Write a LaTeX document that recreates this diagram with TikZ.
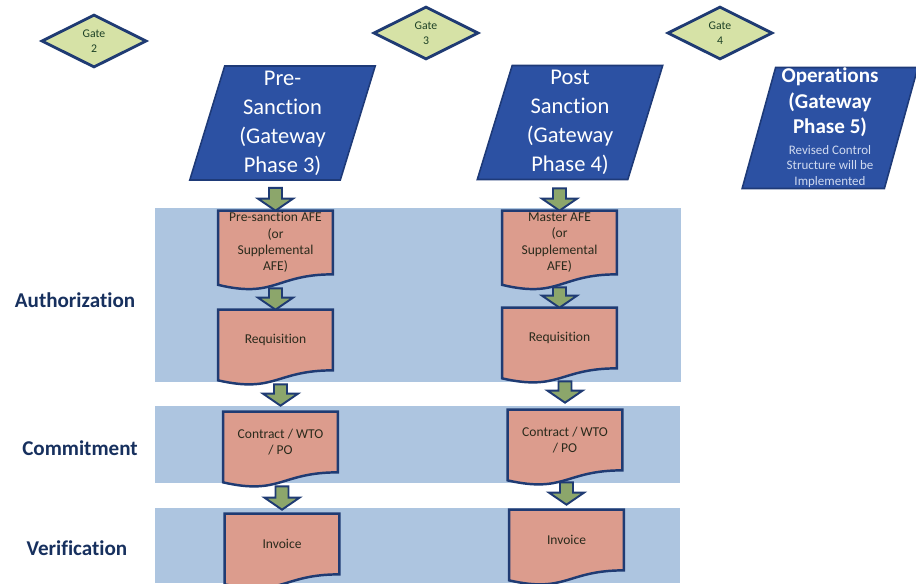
\documentclass[tikz,border=0pt]{standalone}
\usepackage{fontspec}
\setmainfont[Ligatures=NoCommon]{Carlito}
\usetikzlibrary{shapes.geometric,calc}

\definecolor{navyline}{HTML}{1F3B73}
\definecolor{gatefill}{HTML}{D6E2A6}
\definecolor{gatetext}{HTML}{1E4226}
\definecolor{phasefill}{HTML}{2C51A3}
\definecolor{phaseline}{HTML}{1E3A78}
\definecolor{opstext}{HTML}{D0DAF0}
\definecolor{bandfill}{HTML}{ADC5E0}
\definecolor{docfill}{HTML}{DC9C8D}
\definecolor{doctext}{HTML}{2A2A1C}
\definecolor{arrowfill}{HTML}{8CA66B}
\definecolor{labelblue}{HTML}{17305E}

\pgfdeclarelayer{bands}
\pgfdeclarelayer{shapes}
\pgfsetlayers{bands,shapes,main}

\tikzset{
	gate/.style={diamond, aspect=2, draw=navyline, line width=1.6pt, fill=gatefill,
		minimum width=2.1cm, minimum height=1.06cm, inner sep=0pt, align=center,
		text=gatetext, font=\fontsize{6.7}{8.7}\selectfont},
	phase/.style={trapezium, trapezium left angle=76, trapezium right angle=104,
		trapezium stretches=true, draw=phaseline, line width=0.9pt, fill=phasefill,
		text=white, align=center, inner sep=0pt, minimum width=3.74cm,
		minimum height=2.28cm, font=\fontsize{12.8}{16.5}\selectfont},
	stagelabel/.style={text=labelblue, font=\bfseries\fontsize{12}{14}\selectfont},
	docbox/.style={rectangle, inner sep=0pt, minimum width=2.28cm, minimum height=1.2cm,
		align=center, text=doctext, font=\fontsize{7.7}{9.3}\selectfont},
	docline/.style={draw=navyline, line width=1.4pt, fill=docfill},
	band/.style={fill=bandfill},
	flowarrow/.style={draw=navyline, line width=1.1pt, fill=arrowfill, line join=miter}
}

\newcommand{\opsnote}{\mdseries\color{opstext}\fontsize{7.4}{9}\selectfont}

\newcommand{\docoutline}[1]{%
	\filldraw[docline] (#1.north west) -- (#1.north east) -- (#1.south east)
	.. controls (#1.south) and ($(#1.north)!1.381!(#1.south)$)
	.. ($(#1.north west)!1.165!(#1.south west)$) -- cycle;}

\newcommand{\blockarrow}[4]{%
	\draw[flowarrow] ($(#2.north |- #1.south)+(-6.5,#3)$) -- ($(#2.north |- #1.south)+(6.5,#3)$)
	-- ($(#2.north)+(6.5,-12-#4)$) -- ($(#2.north)+(17.5,-12-#4)$) -- ($(#2.north)+(0,-#4)$)
	-- ($(#2.north)+(-17.5,-12-#4)$) -- ($(#2.north)+(-6.5,-12-#4)$) -- cycle;}

\begin{document}
\begin{tikzpicture}[x=0.02cm,y=-0.02cm]
	\useasboundingbox (0,0) rectangle (916,583);
	
	\begin{pgfonlayer}{bands}
		\fill[band] (155,208) rectangle (681,382);
		\fill[band] (155,406) rectangle (680,483);
		\fill[band] (155,508) rectangle (680,583);
	\end{pgfonlayer}
	
	\node[gate] (gate2) at (94,41) {Gate\\2};
	\node[gate] (gate3) at (426,33) {Gate\\3};
	\node[gate] (gate4) at (720,33) {Gate\\4};
	
	\node[phase] (pre) at (282.5,123) {Pre-\\Sanction\\(Gateway\\Phase 3)};
	\node[phase] (post) at (570,122.5) {Post\\Sanction\\(Gateway\\Phase 4)};
	\node[phase, minimum width=3.52cm, minimum height=2.42cm,
		font=\bfseries\fontsize{12}{14.5}\selectfont] (ops) at (830,128)
		{Operations\\(Gateway\\Phase 5)\\[-3pt]\opsnote Revised Control\\[-5.5pt]\opsnote Structure will be\\[-5.5pt]\opsnote Implemented};
	
	\node[stagelabel] (auth) at (75,300) {Authorization};
	\node[stagelabel] (commit) at (80,448) {Commitment};
	\node[stagelabel] (verif) at (77,548) {Verification};
	
	\node[docbox, minimum height=1.26cm] (afeA) at (275.5,242.5) {Pre-sanction AFE\\(or\\Supplemental\\AFE)};
	\node[docbox] (reqA) at (275.5,340) {Requisition};
	\node[docbox] (conA) at (280.5,442) {Contract / WTO\\/ PO};
	\node[docbox] (invA) at (282,544) {Invoice};
	
	\node[docbox, minimum height=1.26cm] (afeB) at (559.5,242.5) {Master AFE\\(or\\Supplemental\\AFE)};
	\node[docbox] (reqB) at (559.5,338) {Requisition};
	\node[docbox] (conB) at (565,440) {Contract / WTO\\/ PO};
	\node[docbox] (invB) at (566.5,540) {Invoice};
	
	\begin{pgfonlayer}{shapes}
		\foreach \d in {afeA,reqA,conA,invA,afeB,reqB,conB,invB} {\docoutline{\d}}
	\end{pgfonlayer}
	
	\blockarrow{pre}{afeA}{7}{0}
	\blockarrow{afeA}{reqA}{14}{0}
	\blockarrow{reqA}{conA}{14}{6}
	\blockarrow{conA}{invA}{14}{4}
	
	\blockarrow{post}{afeB}{8}{0}
	\blockarrow{afeB}{reqB}{13}{0}
	\blockarrow{reqB}{conB}{13}{7}
	\blockarrow{conB}{invB}{12}{5}
\end{tikzpicture}
\end{document}
